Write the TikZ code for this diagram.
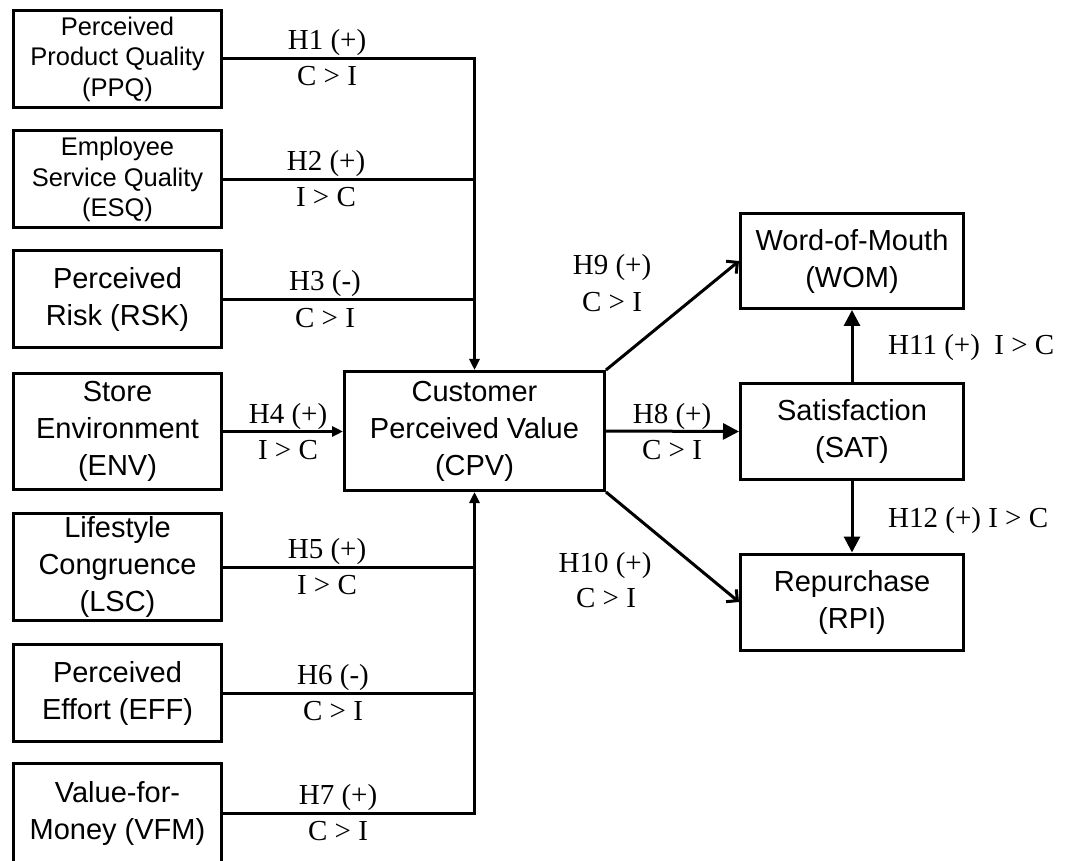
\documentclass[tikz,border=0pt]{standalone}
\usepackage{fontspec}
\setmainfont{Liberation Serif}
\newfontfamily\boxfont{Liberation Sans}
\usetikzlibrary{arrows.meta, positioning}

\begin{document}
\begin{tikzpicture}[x=1pt, y=-1pt,
    box/.style={draw, line width=3pt, inner sep=0pt, align=center,
                font=\boxfont\fontsize{29}{37}\selectfont},
    lbox/.style={box, minimum width=208pt, minimum height=97pt},
    sbox/.style={lbox, font=\boxfont\fontsize{25.5}{30.5}\selectfont},
    rbox/.style={box, minimum width=223pt, minimum height=96pt},
    hyp/.style={anchor=base, inner sep=0pt, font=\fontsize{29}{34}\selectfont},
    link/.style={line width=3pt},
    arr/.style={link, -{Triangle[length=11pt, width=10pt]}},
    bigarr/.style={link, -{Triangle[length=16pt, width=16pt]}},
    barb/.style={link, -{Straight Barb[length=8pt, width=16pt]}}
  ]
  \useasboundingbox (0,0) rectangle (1080,861);

  %--- antecedents (left) ---
  \node[sbox] (ppq) at (117.5,59)  {Perceived\\Product Quality\\(PPQ)};
  \node[sbox] (esq) at (117.5,179.5) {Employee\\Service Quality\\(ESQ)};
  \node[lbox] (rsk) at (117.5,299.5) {Perceived\\Risk (RSK)};
  \node[lbox, minimum height=116pt] (env) at (117.5,431.5) {Store\\Environment\\(ENV)};
  \node[lbox, minimum height=107pt] (lsc) at (117.5,567) {Lifestyle\\Congruence\\(LSC)};
  \node[lbox] (eff) at (117.5,693) {Perceived\\Effort (EFF)};
  \node[lbox, minimum height=100pt] (vfm) at (117.5,813) {Value-for-\\Money (VFM)};

  %--- mediator and outcomes ---
  \node[box, minimum width=260pt, minimum height=119pt]
        (cpv) at (474.5,431) {Customer\\Perceived Value\\(CPV)};
  \node[rbox, minimum height=95pt] (wom) at (852,261) {Word-of-Mouth\\(WOM)};
  \node[rbox] (sat) at (852,431.5) {Satisfaction\\(SAT)};
  \node[rbox] (rpi) at (852,602) {Repurchase\\(RPI)};

  %--- paths into CPV ---
  \draw[arr] (ppq.east) -| (cpv.north);
  \foreach \n in {esq, rsk}
    \draw[link] (\n.east) -- (\n.east -| cpv.north);
  \draw[arr] (env.east) -- (env.east -| cpv.west);
  \draw[arr] (vfm.east) -| (cpv.south);
  \foreach \n in {lsc, eff}
    \draw[link] (\n.east) -- (\n.east -| cpv.south);

  %--- paths out of CPV ---
  \draw[bigarr] (cpv.east) -- (sat.west);
  \draw[barb] (cpv.north east) -- (wom.west);
  \draw[barb] (cpv.south east) -- (rpi.west);
  \draw[bigarr] (sat) -- (wom);
  \draw[bigarr] (sat) -- (rpi);

  %--- hypothesis labels ---
  \foreach \i/\x/\y/\s/\r in {1/327/59/+/C > I, 2/326/180/+/I > C,
      3/325/300/-/C > I, 4/288/432/+/I > C, 5/327/567/+/I > C,
      6/333/693/-/C > I, 7/338/813/+/C > I, 8/672/432/+/C > I} {
    \node[hyp] (h\i-top) at (\x,\y-9) {H\i\ (\s)};
    \node[hyp] (h\i-bot) at (\x,\y+27) {\r};
  }
  \node[hyp] (h9-top) at (612,275) {H9 (+)};
  \node[hyp] (h9-bot) at (612,312) {C > I};
  \node[hyp] (h10-top) at (605,572) {H10 (+)};
  \node[hyp] (h10-bot) at (606,607) {C > I};
  \node[hyp, anchor=base west] (h11) at (888,355) {H11 (+)\ \ I > C};
  \node[hyp, anchor=base west] (h12) at (888,527) {H12 (+) I > C};
\end{tikzpicture}
\end{document}
